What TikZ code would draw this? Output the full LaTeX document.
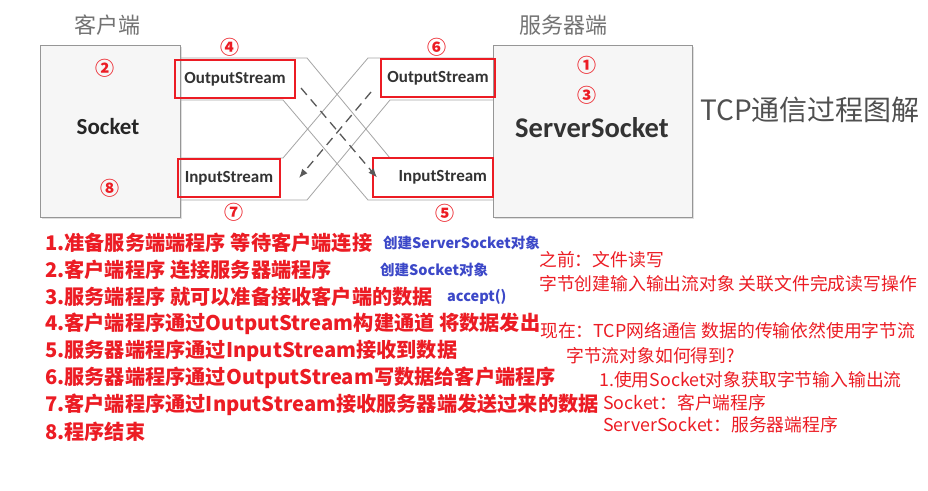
\documentclass[tikz,border=0pt]{standalone}
\usepackage{fontspec}
\setmainfont{Noto Sans CJK SC}
\newfontfamily\labelfont{Carlito}
\usetikzlibrary{arrows.meta, shadows}
\definecolor{stepred}{RGB}{236,28,36}
\definecolor{noteblue}{RGB}{60,72,200}
\definecolor{pipegray}{RGB}{165,165,165}
\definecolor{boxgray}{RGB}{150,150,150}
\definecolor{titlegray}{RGB}{80,80,80}
\tikzset{
  endbox/.style   = {draw=boxgray, fill=gray!7, line width=0.9pt,
                     drop shadow={opacity=0.25, shadow xshift=1.5pt, shadow yshift=-1.5pt}},
  streambox/.style= {draw=stepred, line width=2pt, inner sep=0pt,
                     font=\labelfont\bfseries\fontsize{17}{20}\selectfont, text=black!80},
  pipe/.style     = {draw=pipegray, line width=0.8pt},
  flow/.style     = {-{Latex[length=9pt, width=7pt]}, dashed, dash pattern=on 9pt off 6pt,
                     line width=1.3pt, draw=black!65},
  stepmark/.style = {text=stepred, font=\bfseries\fontsize{19}{21}\selectfont, inner sep=0pt},
  side/.style     = {text=titlegray!80, font=\fontsize{22}{24}\selectfont, inner sep=0pt},
  item/.style     = {anchor=west, inner sep=0pt, text=stepred,
                     font=\bfseries\fontsize{20.2}{24}\selectfont},
  bluenote/.style = {anchor=west, inner sep=0pt, text=noteblue,
                     font=\bfseries\fontsize{14.5}{17}\selectfont},
  rednote/.style  = {anchor=west, inner sep=0pt, text=stepred,
                     font=\fontsize{17.8}{21}\selectfont},
}
\begin{document}
\begin{tikzpicture}[x=1pt, y=-1pt]
  \useasboundingbox[fill=white] (0,0) rectangle (928,490);

  % the two ends
  \node[endbox, minimum width=140pt, minimum height=172pt] (client) at (110,131) {};
  \node[endbox, minimum width=199pt, minimum height=172pt] (server) at (592.5,131) {};
  \node[side] (clienttitle) at (107,25) {客户端};
  \node[side] (servertitle) at (563,25) {服务器端};
  \node[font=\labelfont\bfseries\fontsize{23}{26}\selectfont, text=black!85] (socket) at (108,127) {Socket};
  \node[font=\labelfont\bfseries\fontsize{28.5}{30}\selectfont, text=black!80] (serversocket) at (592,128) {ServerSocket};

  % crossing pipes
  \draw[pipe] (180,58) -- (307,58) -- (390,158) -- (493,158);
  \draw[pipe] (180,100) -- (283,100) -- (368,200) -- (493,200);
  \draw[pipe] (493,58) -- (368,58) -- (283,158) -- (180,158);
  \draw[pipe] (493,100) -- (390,100) -- (307,200) -- (180,200);

  % streams
  \node[streambox, minimum width=120pt, minimum height=38pt] (cout) at (235,79) {OutputStream};
  \node[streambox, minimum width=102pt, minimum height=38pt] (cin) at (229,178) {InputStream};
  \node[streambox, minimum width=114pt, minimum height=38pt] (sout) at (438,78) {OutputStream};
  \node[streambox, minimum width=120pt, minimum height=39pt, text width=108pt, align=right] (sin) at (433,177.5) {InputStream};

  \draw[flow] ([xshift=5pt, yshift=-9pt]cout.east) -- ([xshift=5pt]sin.west);
  \draw[flow] ([xshift=-9pt, yshift=-14pt]sout.west) -- ([xshift=18pt]cin.east);

  % step marks
  \node[stepmark] (m4) at (230,47) {④};
  \node[stepmark] (m2) at (105,68) {②};
  \node[stepmark] (m8) at (110,188) {⑧};
  \node[stepmark] (m7) at (234,212) {⑦};
  \node[stepmark] (m6) at (437,47) {⑥};
  \node[stepmark] (m1) at (587,65) {①};
  \node[stepmark] (m3) at (587,95) {③};
  \node[stepmark] (m5) at (445,213) {⑤};

  \node[anchor=west, inner sep=0pt, text=titlegray, font=\fontsize{28}{30}\selectfont] (tcptitle) at (700,110) {TCP通信过程图解};

  % steps
  \foreach \txt [count=\i] in {1.准备服务端端程序 等待客户端连接,
      2.客户端程序 连接服务器端程序,
      3.服务端程序 就可以准备接收客户端的数据,
      4.客户端程序通过OutputStream构建通道 将数据发出,
      5.服务器端程序通过InputStream接收到数据,
      6.服务器端程序通过OutputStream写数据给客户端程序,
      7.客户端程序通过InputStream接收服务器端发送过来的数据,
      8.程序结束}
    \node[item] (item\i) at (45,{243+27*(\i-1)}) {\txt};

  \node[bluenote] (note1) at (383,243) {创建ServerSocket对象};
  \node[bluenote] (note2) at (380,270) {创建Socket对象};
  \node[bluenote] (note3) at (447,297) {accept()};

  \node[rednote] (before) at (539,260) {之前：文件读写};
  \node[rednote] (beforeb) at (539,284) {字节创建输入输出流对象 关联文件完成读写操作};
  \node[rednote] (now) at (540,331) {现在：TCP网络通信 数据的传输依然使用字节流};
  \node[rednote] (nowb) at (566,356) {字节流对象如何得到?};
  \node[rednote] (nowc) at (599,380) {1.使用Socket对象获取字节输入输出流};
  \node[rednote] (nowd) at (603,403) {Socket：客户端程序};
  \node[rednote] (nowe) at (603,425) {ServerSocket：服务器端程序};
\end{tikzpicture}
\end{document}
